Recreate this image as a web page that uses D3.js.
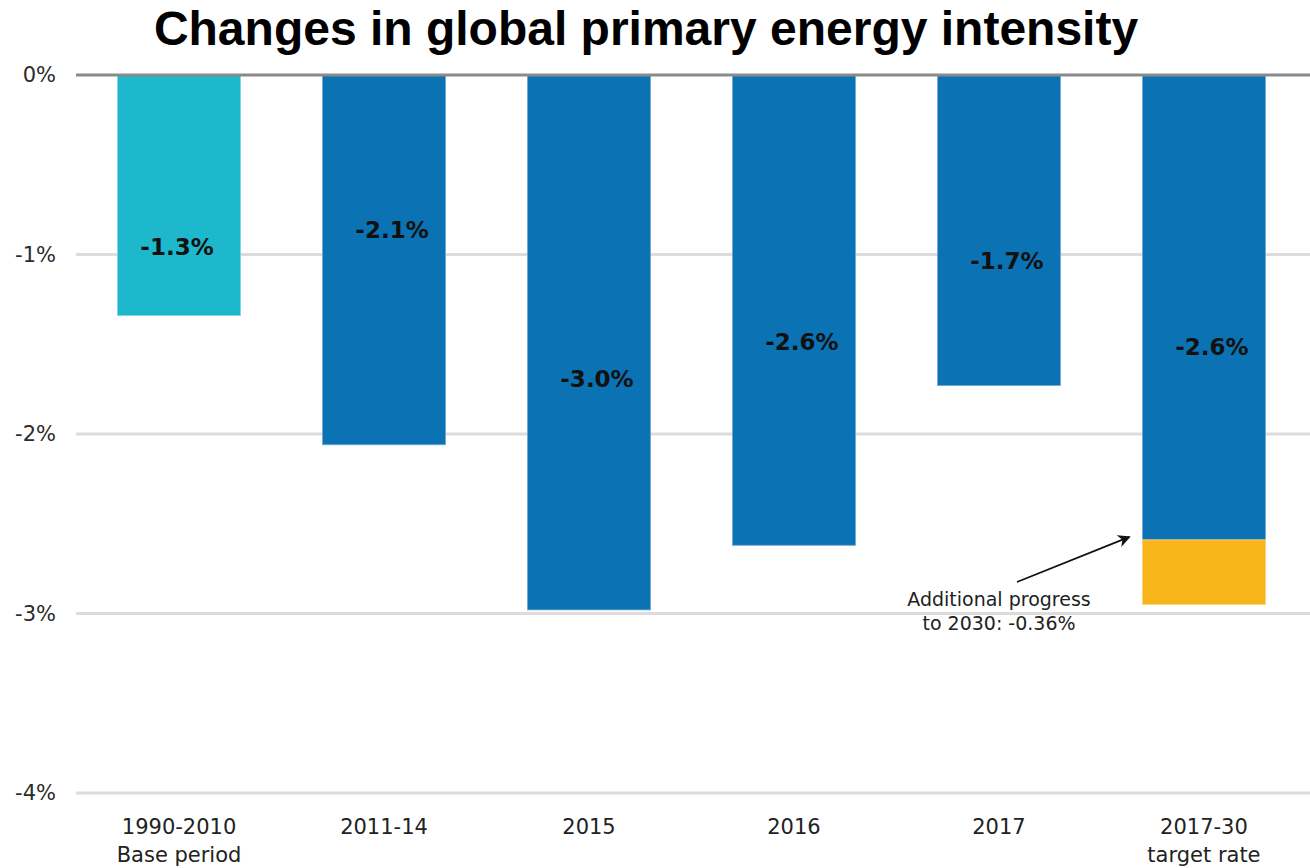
<!DOCTYPE html>
<html>
<head>
<meta charset="utf-8">
<script src="https://cdn.jsdelivr.net/npm/d3@7"></script>
<style>
  html, body { margin: 0; padding: 0; background: #fff; }
  svg { display: block; }
</style>
</head>
<body>
<svg id="chart" width="1310" height="868"></svg>
<script>
// Annual change in global primary energy intensity, % per year
const categories = ["1990-2010", "2011-14", "2015", "2016", "2017", "2017-30"];
const subLabels  = ["Base period", "", "", "", "", "target rate"];
const values     = [-1.34, -2.06, -2.98, -2.62, -1.73, -2.59];
const extraProgress = -0.36;            // additional progress needed to 2030 (last bar)
const yTicks     = [0, -1, -2, -3, -4];
const titleText  = "Changes in global primary energy intensity";
const noteLines  = ["Additional progress", "to 2030: -0.36%"];

// layout: depth (in % units) of each bar's value label baseline
const labelDepth = [-1.0, -0.91, -1.74, -1.53, -1.08, -1.56];

const colBase   = "#1db8cb";
const colBlue   = "#0b72b4";
const colYellow = "#f8b51a";
const bodyFont  = "'DejaVu Sans', Lato, sans-serif";

// plain hyphen for negatives, as printed on the chart
const pct0 = d => String(d).replace("\u2212", "-") + "%";
const pct1 = d => d3.format(".1f")(d).replace("\u2212", "-") + "%";

const svg = d3.select("#chart");

const x = d3.scaleBand()
  .domain(categories)
  .range([74.5, 1308.5])
  .paddingInner(0.4)
  .paddingOuter(0.21);

const y = d3.scaleLinear().domain([0, -4]).range([75, 793]);

// title
svg.append("text")
  .attr("x", 646).attr("y", 45)
  .attr("text-anchor", "middle")
  .style("font-family", "'Liberation Sans', Arial, sans-serif")
  .style("font-weight", "bold")
  .style("font-size", "48px")
  .attr("fill", "#000")
  .text(titleText);

// gridlines (non-zero)
const grid = svg.append("g");
grid.selectAll("line")
  .data(yTicks.filter(d => d !== 0))
  .join("line")
  .attr("x1", 76).attr("x2", 1310)
  .attr("y1", d => y(d)).attr("y2", d => y(d))
  .attr("stroke", "#dcdcdc")
  .attr("stroke-width", 3);

// y axis labels
const yAxis = d3.axisLeft(y).tickValues(yTicks).tickSize(0).tickPadding(0)
  .tickFormat(pct0);
const yg = svg.append("g").attr("transform", "translate(56,0)").call(yAxis);
yg.select(".domain").remove();
yg.selectAll("text")
  .attr("dy", "0.32em")
  .style("font-family", bodyFont)
  .style("font-size", "21px")
  .attr("fill", "#2b2b2b");

// bars
const bars = svg.append("g");
bars.selectAll("rect.bar")
  .data(values)
  .join("rect")
  .attr("class", "bar")
  .attr("x", (d, i) => x(categories[i]))
  .attr("width", x.bandwidth())
  .attr("y", y(0))
  .attr("height", d => y(d) - y(0))
  .attr("fill", (d, i) => i === 0 ? colBase : colBlue)
  .attr("stroke", (d, i) => i === 0 ? "#7fd6e0" : "#6aa8d6")
  .attr("stroke-width", 0.8);

// additional progress segment stacked below last bar
const last = categories.length - 1;
const lastVal = values[last];
bars.append("rect")
  .attr("x", x(categories[last]))
  .attr("width", x.bandwidth())
  .attr("y", y(lastVal))
  .attr("height", y(lastVal + extraProgress) - y(lastVal))
  .attr("fill", colYellow)
  .attr("stroke", "#fbd27a")
  .attr("stroke-width", 0.8);

// zero line on top
svg.append("line")
  .attr("x1", 76).attr("x2", 1310)
  .attr("y1", y(0)).attr("y2", y(0))
  .attr("stroke", "#8a8a8a")
  .attr("stroke-width", 3);

// value labels
svg.append("g").selectAll("text")
  .data(values)
  .join("text")
  .attr("x", (d, i) => x(categories[i]) + x.bandwidth() / 2 + (i === 0 ? -2 : 8))
  .attr("y", (d, i) => y(labelDepth[i]))
  .attr("text-anchor", "middle")
  .style("font-family", bodyFont)
  .style("font-weight", "bold")
  .style("font-size", "23px")
  .attr("fill", "#111")
  .text(pct1);

// category labels
const cat = svg.append("g");
cat.selectAll("text.c1")
  .data(categories)
  .join("text")
  .attr("class", "c1")
  .attr("x", d => x(d) + x.bandwidth() / 2)
  .attr("y", 834)
  .attr("text-anchor", "middle")
  .style("font-family", bodyFont)
  .style("font-size", "21px")
  .attr("fill", "#222")
  .text(d => d);
cat.selectAll("text.c2")
  .data(subLabels)
  .join("text")
  .attr("class", "c2")
  .attr("x", (d, i) => x(categories[i]) + x.bandwidth() / 2)
  .attr("y", 862)
  .attr("text-anchor", "middle")
  .style("font-family", bodyFont)
  .style("font-size", "21px")
  .attr("fill", "#222")
  .text(d => d);

// annotation with arrow pointing at the top of the additional segment
svg.append("defs").append("marker")
  .attr("id", "arrow")
  .attr("viewBox", "0 0 10 10")
  .attr("refX", 9).attr("refY", 5)
  .attr("markerWidth", 7).attr("markerHeight", 7)
  .attr("orient", "auto")
  .append("path")
  .attr("d", "M0,0 L10,5 L0,10 L3,5 Z")
  .attr("fill", "#111");

const tipX = x(categories[last]) - 13;
const tipY = y(lastVal) - 3;
svg.append("line")
  .attr("x1", 1017).attr("y1", 582)
  .attr("x2", tipX).attr("y2", tipY)
  .attr("stroke", "#111")
  .attr("stroke-width", 1.8)
  .attr("marker-end", "url(#arrow)");

svg.append("g").selectAll("text")
  .data(noteLines)
  .join("text")
  .attr("x", 999)
  .attr("y", (d, i) => 606 + i * 24)
  .attr("text-anchor", "middle")
  .style("font-family", bodyFont)
  .style("font-size", "19px")
  .attr("fill", "#222")
  .text(d => d);
</script>
</body>
</html>
